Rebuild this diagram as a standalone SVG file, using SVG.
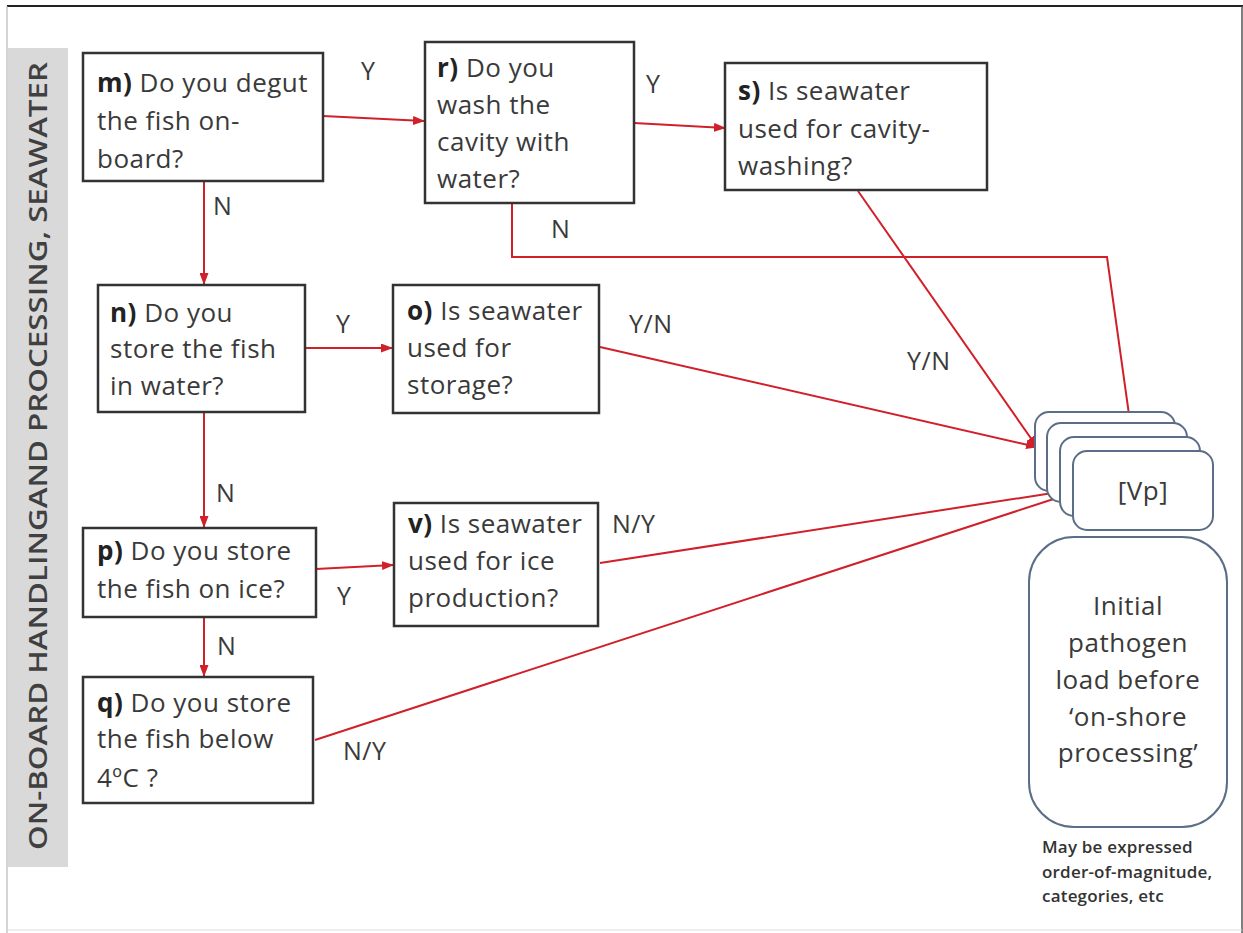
<svg xmlns="http://www.w3.org/2000/svg" width="1243" height="933" viewBox="0 0 1243 933">
<defs>
<marker id="ah" markerWidth="12" markerHeight="9" refX="11" refY="4.5" orient="auto" markerUnits="userSpaceOnUse">
<path d="M0,0 L12,4.5 L0,9 Z" fill="#d0202a"/>
</marker>
<style>
.box{fill:#fff;stroke:#333;stroke-width:2.5}
.card{fill:#fff;stroke:#5b6e86;stroke-width:2}
.t{font-family:"Open Sans","Liberation Sans",sans-serif;font-size:26px;fill:#3a3a3a;letter-spacing:0.5px}
.b{font-weight:bold;fill:#222}
.lbl{font-family:"Open Sans","Liberation Sans",sans-serif;font-size:25px;fill:#3a3a3a;letter-spacing:0.5px}
.c{fill:none;stroke:#d0202a;stroke-width:2}
.note{font-family:"Open Sans","Liberation Sans",sans-serif;font-size:17px;fill:#333;font-weight:600;letter-spacing:0.2px}
</style>
</defs>
<rect x="0" y="0" width="1243" height="933" fill="#fff"/>
<line x1="7" y1="6" x2="1243" y2="6" stroke="#222" stroke-width="2"/>
<line x1="1242" y1="6" x2="1242" y2="933" stroke="#555" stroke-width="1.5"/>
<line x1="7" y1="6" x2="7" y2="933" stroke="#aaa" stroke-width="1"/>
<line x1="7" y1="930" x2="1242" y2="930" stroke="#ddd" stroke-width="1"/>
<g id="band">
<rect x="8" y="48" width="60" height="819" fill="#d9d9d9"/>
<text transform="translate(47,456) rotate(-90)" text-anchor="middle" font-family="'Open Sans','Liberation Sans',sans-serif" font-size="26" font-weight="600" fill="#404040" textLength="788" lengthAdjust="spacingAndGlyphs">ON-BOARD HANDLINGAND PROCESSING, SEAWATER</text>
</g>
<g id="connectors">
<path class="c" d="M323,116 L424,121" marker-end="url(#ah)"/>
<path class="c" d="M634,123 L725,128" marker-end="url(#ah)"/>
<path class="c" d="M204,181 L204,284" marker-end="url(#ah)"/>
<path class="c" d="M512,203 L512,257 L1107,257 L1132,436" marker-end="url(#ah)"/>
<path class="c" d="M858,191 L1037,447" marker-end="url(#ah)"/>
<path class="c" d="M600,347 L1037,447" marker-end="url(#ah)"/>
<path class="c" d="M305,348 L392,348" marker-end="url(#ah)"/>
<path class="c" d="M204,412 L204,527" marker-end="url(#ah)"/>
<path class="c" d="M316,569 L393,565" marker-end="url(#ah)"/>
<path class="c" d="M600,563 L1072,490" marker-end="url(#ah)"/>
<path class="c" d="M204,617 L204,676" marker-end="url(#ah)"/>
<path class="c" d="M315,740 L1072,493" marker-end="url(#ah)"/>
</g>
<g id="labels">
<text class="lbl" x="361" y="80">Y</text>
<text class="lbl" x="213" y="215">N</text>
<text class="lbl" x="646" y="93">Y</text>
<text class="lbl" x="551" y="238">N</text>
<text class="lbl" x="336" y="333">Y</text>
<text class="lbl" x="216" y="502">N</text>
<text class="lbl" x="629" y="333">Y/N</text>
<text class="lbl" x="907" y="370">Y/N</text>
<text class="lbl" x="612" y="533">N/Y</text>
<text class="lbl" x="337" y="605">Y</text>
<text class="lbl" x="217" y="655">N</text>
<text class="lbl" x="343" y="760">N/Y</text>
</g>
<g id="node-m">
<rect class="box" x="83" y="53" width="240" height="128"/>
<text class="t" x="97" y="92"><tspan class="b">m)</tspan> Do you degut</text>
<text class="t" x="97" y="130">the fish on-</text>
<text class="t" x="97" y="168">board?</text>
</g>
<g id="node-r">
<rect class="box" x="425" y="42" width="209" height="161"/>
<text class="t" x="437" y="77"><tspan class="b">r)</tspan> Do you</text>
<text class="t" x="437" y="114">wash the</text>
<text class="t" x="437" y="151">cavity with</text>
<text class="t" x="437" y="188">water?</text>
</g>
<g id="node-s">
<rect class="box" x="725" y="63" width="262" height="127"/>
<text class="t" x="738" y="100"><tspan class="b">s)</tspan> Is seawater</text>
<text class="t" x="738" y="138">used for cavity-</text>
<text class="t" x="738" y="175">washing?</text>
</g>
<g id="node-n">
<rect class="box" x="98" y="285" width="207" height="127"/>
<text class="t" x="110" y="322"><tspan class="b">n)</tspan> Do you</text>
<text class="t" x="110" y="358">store the fish</text>
<text class="t" x="110" y="395">in water?</text>
</g>
<g id="node-o">
<rect class="box" x="393" y="285" width="206" height="128"/>
<text class="t" x="407" y="320"><tspan class="b">o)</tspan> Is seawater</text>
<text class="t" x="407" y="357">used for</text>
<text class="t" x="407" y="394">storage?</text>
</g>
<g id="node-p">
<rect class="box" x="83" y="528" width="233" height="89"/>
<text class="t" x="97" y="560"><tspan class="b">p)</tspan> Do you store</text>
<text class="t" x="97" y="598">the fish on ice?</text>
</g>
<g id="node-v">
<rect class="box" x="394" y="503" width="204" height="123"/>
<text class="t" x="408" y="533"><tspan class="b">v)</tspan> Is seawater</text>
<text class="t" x="408" y="570">used for ice</text>
<text class="t" x="408" y="607">production?</text>
</g>
<g id="node-q">
<rect class="box" x="83" y="677" width="230" height="126"/>
<text class="t" x="97" y="712"><tspan class="b">q)</tspan> Do you store</text>
<text class="t" x="97" y="748">the fish below</text>
<text class="t" x="97" y="787">4ºC ?</text>
</g>
<g id="node-vp">
<rect class="card" x="1035" y="412" width="140" height="79" rx="14"/>
<rect class="card" x="1047" y="423" width="140" height="79" rx="14"/>
<rect class="card" x="1060" y="437" width="140" height="79" rx="14"/>
<rect class="card" x="1073" y="451" width="140" height="79" rx="14"/>
<text class="t" x="1143" y="500" text-anchor="middle">[Vp]</text>
</g>
<g id="node-initial">
<rect class="card" x="1029" y="537" width="198" height="290" rx="45"/>
<text class="t" x="1128" y="615" text-anchor="middle">Initial</text>
<text class="t" x="1128" y="652" text-anchor="middle">pathogen</text>
<text class="t" x="1128" y="689" text-anchor="middle">load before</text>
<text class="t" x="1128" y="726" text-anchor="middle">‘on-shore</text>
<text class="t" x="1128" y="762" text-anchor="middle">processing’</text>
</g>
<g id="note">
<text class="note" x="1042" y="853">May be expressed</text>
<text class="note" x="1042" y="878">order-of-magnitude,</text>
<text class="note" x="1042" y="902">categories, etc</text>
</g>
</svg>
